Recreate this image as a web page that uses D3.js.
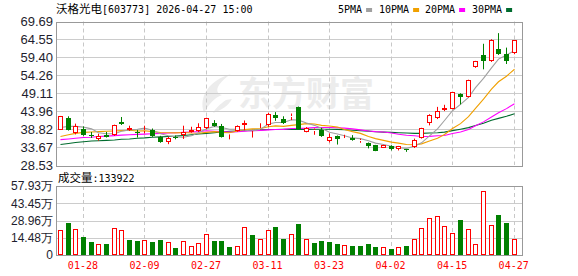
<!DOCTYPE html>
<html>
<head>
<meta charset="utf-8">
<style>
    body { margin: 0; background: #fff; }
    svg { display: block; }
    .ylab text { font-family: 'Liberation Sans', Arial, sans-serif; font-size: 13px; fill: #1e1e2e; }
    .vlab text { font-family: 'Liberation Sans', Arial, sans-serif; font-size: 12px; fill: #1e1e2e; }
    .xlab text { font-family: 'DejaVu Sans Mono', monospace; font-size: 10px; fill: #f00; }
    .mono { font-family: 'DejaVu Sans Mono', monospace; font-size: 10px; fill: #000; }
    .cjk { font-family: 'Noto Sans CJK SC', sans-serif; font-size: 11.5px; fill: #000; }
</style>
</head>
<body>
<svg width="578" height="276"></svg>

<script src="https://d3js.org/d3.v7.min.js"></script>
<script>
// trading days shown
const dates = ["01-23","01-26","01-27","01-28","01-29","01-30","02-02","02-03","02-04","02-05",
    "02-06","02-09","02-10","02-11","02-12","02-13","02-24","02-25","02-26","02-27",
    "03-02","03-03","03-04","03-05","03-06","03-09","03-10","03-11","03-12","03-13",
    "03-16","03-17","03-18","03-19","03-20","03-23","03-24","03-25","03-26","03-27",
    "03-30","03-31","04-01","04-02","04-03","04-07","04-08","04-09","04-10","04-13",
    "04-14","04-15","04-16","04-17","04-20","04-21","04-22","04-23","04-24","04-27"]

const opens = [38.7,42.0,37.6,38.9,37.1,35.9,37.0,37.1,40.9,38.7,
    38.0,38.2,38.5,36.6,35.0,36.6,37.1,38.1,38.3,39.0,
    40.6,39.7,35.8,38.3,40.0,38.4,39.0,39.9,42.8,41.6,
    42.3,45.2,38.05,38.3,38.5,35.4,36.8,36.2,36.4,35.4,
    34.7,34.2,33.5,34.0,33.0,33.0,33.8,36.3,40.6,41.9,
    44.4,44.6,49.0,48.1,56.6,59.97,58.3,61.7,60.5,60.7]
const highs = [42.6,42.5,40.4,39.6,38.0,37.5,38.0,40.1,42.3,39.8,
    38.6,39.8,39.0,36.9,36.6,37.0,39.8,39.5,40.5,42.1,
    41.4,40.3,37.3,39.9,41.3,38.6,40.5,43.5,43.7,42.5,
    43.3,45.3,39.4,39.0,39.2,37.6,37.0,37.2,37.1,36.1,
    35.0,34.3,34.3,34.2,34.0,33.1,36.1,39.2,43.1,45.2,
    45.8,49.5,49.1,53.0,58.4,63.3,64.6,66.35,62.2,64.4]
const lows = [38.6,38.4,37.3,36.9,36.3,35.5,36.4,36.9,40.0,38.3,
    36.4,37.6,36.6,34.9,34.5,35.9,36.0,37.8,38.0,38.8,
    39.5,36.4,35.8,38.1,38.5,36.4,38.7,39.5,41.2,40.3,
    41.4,38.7,37.9,37.2,36.6,35.0,34.4,36.0,35.5,34.9,
    33.3,32.5,33.4,32.7,32.7,32.3,33.4,36.1,39.9,41.7,
    44.0,44.5,45.9,47.9,56.4,55.97,58.1,60.1,57.5,60.3]
const closes = [42.5,38.5,39.7,37.1,36.8,36.9,36.6,39.96,40.3,39.1,
    37.7,38.7,36.8,35.0,36.4,36.2,38.1,38.6,39.5,42.05,
    39.7,36.6,35.9,39.7,40.6,38.5,39.2,43.3,41.9,40.6,
    42.5,38.8,39.0,38.5,36.8,36.6,36.1,36.3,35.7,35.6,
    33.9,32.6,34.2,33.0,33.9,32.8,35.7,39.0,43.0,44.0,
    45.0,49.4,48.1,52.8,58.3,58.5,64.5,60.5,58.5,64.3]

// volume, in 万
const vols = [21.0,27.1,21.6,15.4,11.2,9.2,9.2,22.4,21.0,12.6,
    12.0,12.6,11.2,12.6,10.9,6.2,11.8,7.6,10.4,17.6,
    12.0,12.0,7.0,7.6,23.8,16.8,13.4,21.0,23.8,13.4,
    17.6,26.0,13.4,10.4,12.0,11.2,9.2,8.1,7.6,7.6,
    9.2,7.0,6.4,5.0,6.4,7.6,13.2,22.4,30.8,32.7,
    24.3,18.2,29.4,21.6,9.2,53.7,25.2,33.6,27.1,13.39]

const ma5 = [39.3,39.6,39.6,39.4,38.9,37.8,37.5,37.5,38.2,38.6,
    38.8,39.1,38.5,37.5,36.9,36.6,36.5,36.9,37.8,38.9,
    39.6,39.3,38.8,38.8,38.5,38.3,38.8,40.3,40.7,40.7,
    41.5,41.4,40.6,39.9,39.1,37.9,37.4,36.9,36.3,36.1,
    35.5,34.8,34.4,33.9,33.5,33.3,33.9,34.9,36.9,38.9,
    41.3,44.1,45.9,47.9,50.7,53.4,56.4,58.9,60.1,61.3]
const ma10 = [36.7,37.2,37.6,37.9,38.0,38.1,38.2,38.3,38.4,38.5,
    38.3,38.35,38.1,37.85,37.8,37.75,37.85,37.7,37.65,37.9,
    38.1,37.9,37.8,38.3,38.7,38.9,39.0,39.5,39.75,39.6,
    39.9,40.1,40.4,40.3,39.9,39.7,39.4,38.7,38.1,37.6,
    36.7,36.1,35.6,35.1,34.8,34.4,34.35,34.6,35.4,36.2,
    37.3,39.0,40.4,42.4,44.8,47.4,50.3,52.4,54.0,56.0]
const ma20 = [35.8,36.0,36.2,36.4,36.5,36.7,36.8,36.95,37.1,37.2,
    37.3,37.4,37.5,37.6,37.7,37.8,37.9,38.0,38.1,38.35,
    38.2,38.1,37.95,38.05,38.25,38.35,38.45,38.6,38.7,38.75,
    39.0,39.0,39.1,39.3,39.3,39.3,39.2,39.1,38.9,38.6,
    38.3,38.1,38.0,37.7,37.35,37.05,36.9,36.7,36.75,36.9,
    37.0,37.55,38.0,38.7,39.8,40.9,42.3,43.5,44.7,46.1]
const ma30 = [34.4,34.7,35.0,35.2,35.4,35.5,35.6,35.7,35.9,36.0,
    36.2,36.3,36.5,36.6,36.7,36.8,37.0,37.2,37.4,37.6,
    37.8,38.0,38.2,38.3,38.4,38.5,38.6,38.7,38.7,38.75,
    38.75,38.8,38.75,38.8,38.8,38.8,38.75,38.65,38.5,38.35,
    38.25,38.05,37.95,37.9,37.8,37.7,37.6,37.6,37.7,37.8,
    37.95,38.4,38.8,39.25,39.85,40.5,41.35,41.9,42.5,43.25]

const priceTicks = [28.53, 33.67, 38.82, 43.96, 49.11, 54.26, 59.40, 64.55, 69.69]
const volTicks = [0, 14.48, 28.96, 43.45, 57.93]
const dateTicks = ["01-28","02-09","02-27","03-11","03-23","04-02","04-15","04-27"]

const maNames = ["5PMA", "10PMA", "20PMA", "30PMA"]
const maColors = ["#a0a0a0", "#f0a000", "#ff00ff", "#006b2e"]

const RED = "#ff0000", GREEN = "#008000"

let svg = d3.select("svg")

let left = 56, right = 522
let mainTop = 21.5, mainBottom = 165
let volTop = 186, volBottom = 255

let x = d3.scaleBand().domain(dates).range([left, 517.5]).padding(0)
let cx = d => Math.round(x(d) + x.bandwidth() / 2)

let y = d3.scaleLinear().domain([28.53, 69.69]).range([mainBottom, mainTop])
let yv = d3.scaleLinear().domain([0, 57.93]).range([volBottom, volTop])

let px = v => Math.round(v) + 0.5

// watermark
let wm = svg.append("g").attr("fill", "#ececec")
wm.append("path")
    .attr("d", "M231,74 C210,80 198,96 204,113 C209,104 214,98 222,95 C214,93 216,84 231,74 Z M226,100 C220,104 215,109 213,113 C222,110 228,106 232,99 Z")
wm.append("text")
    .attr("x", 238).attr("y", 106)
    .style("font-family", "'Noto Sans CJK SC', sans-serif")
    .style("font-size", "34px").style("font-weight", "bold")
    .text("东方财富")

// grids
function grid(scale, ticks, top, bottom) {
    svg.append("g").selectAll("line")
        .data(ticks.filter(t => px(scale(t)) > top + 1 && px(scale(t)) < bottom - 1))
        .join("line")
        .attr("x1", left).attr("x2", right)
        .attr("y1", d => px(scale(d))).attr("y2", d => px(scale(d)))
        .attr("stroke", "#cccccc")

    svg.append("g").selectAll("line")
        .data(dateTicks)
        .join("line")
        .attr("x1", d => cx(d) + 0.5).attr("x2", d => cx(d) + 0.5)
        .attr("y1", top).attr("y2", bottom)
        .attr("stroke", "#c8c8c8")
        .attr("stroke-dasharray", "4,3")

    svg.append("rect")
        .attr("x", left + 0.5).attr("y", Math.round(top) + 0.5)
        .attr("width", right - left).attr("height", Math.round(bottom - top))
        .attr("fill", "none").attr("stroke", "#999")
}
grid(y, priceTicks, mainTop, mainBottom)
grid(yv, volTicks, volTop, volBottom)

// moving averages
let series = [ma5, ma10, ma20, ma30]
let line = d3.line()
    .x((d, i) => cx(dates[i]) + 0.5)
    .y(d => y(d))

svg.append("g").selectAll("path")
    .data([3, 2, 1, 0])
    .join("path")
    .attr("d", k => line(series[k]))
    .attr("fill", "none")
    .attr("stroke", k => maColors[k])
    .attr("stroke-width", 1.1)

// candles
let candles = svg.append("g").selectAll("g")
    .data(dates.map((d, i) => ({ d, o: opens[i], h: highs[i], l: lows[i], c: closes[i] })))
    .join("g")

candles.each(function (p) {
    let g = d3.select(this)
    let up = p.c >= p.o
    let col = up ? RED : GREEN
    let xc = cx(p.d) + 0.5
    let yt = Math.round(y(Math.max(p.o, p.c)))
    let yb = Math.round(y(Math.min(p.o, p.c)))
    if (yb - yt < 1) yb = yt + 1
    g.append("line").attr("x1", xc).attr("x2", xc)
        .attr("y1", y(p.h)).attr("y2", yt).attr("stroke", col)
    g.append("line").attr("x1", xc).attr("x2", xc)
        .attr("y1", yb).attr("y2", y(p.l)).attr("stroke", col)
    if (up) {
        g.append("rect")
            .attr("x", xc - 2).attr("y", yt + 0.5)
            .attr("width", 4).attr("height", Math.max(yb - yt - 1, 0))
            .attr("fill", "#fff").attr("stroke", col)
    } else {
        g.append("rect")
            .attr("x", xc - 2.5).attr("y", yt)
            .attr("width", 5).attr("height", yb - yt)
            .attr("fill", col)
    }
})

// volume bars, coloured by close against previous close
svg.append("g").selectAll("rect")
    .data(vols)
    .join("rect")
    .each(function (v, i) {
        let up = i == 0 ? closes[i] >= opens[i] : closes[i] >= closes[i - 1]
        let xc = cx(dates[i]) + 0.5
        let top = Math.round(yv(v))
        let r = d3.select(this)
        if (up) {
            r.attr("x", xc - 2).attr("y", top + 0.5)
                .attr("width", 4).attr("height", volBottom - top - 1)
                .attr("fill", "#fff").attr("stroke", RED)
        } else {
            r.attr("x", xc - 2.5).attr("y", top)
                .attr("width", 5).attr("height", volBottom - top)
                .attr("fill", GREEN)
        }
    })

// axes
svg.append("g")
    .attr("class", "ylab")
    .attr("transform", `translate(${left - 2},0)`)
    .call(d3.axisLeft(y).tickValues(priceTicks).tickSize(0).tickPadding(1).tickFormat(d3.format(".2f")))
    .call(g => g.select(".domain").remove())

svg.append("g")
    .attr("class", "vlab")
    .attr("transform", `translate(${left - 2},0)`)
    .call(d3.axisLeft(yv).tickValues(volTicks).tickSize(0).tickPadding(1)
        .tickFormat(d => d == 0 ? "0" : d3.format(".2f")(d) + "万"))
    .call(g => g.select(".domain").remove())

svg.append("g")
    .attr("class", "xlab")
    .attr("transform", `translate(0,${volBottom})`)
    .call(d3.axisBottom(x).tickValues(dateTicks).tickSize(0).tickPadding(7))
    .call(g => g.select(".domain").remove())

// header
let title = svg.append("text").attr("x", 56).attr("y", 13)
title.append("tspan").attr("class", "cjk").text("沃格光电")
title.append("tspan").attr("class", "mono").text("[603773] 2026-04-27 15:00")

let legX = [338, 379, 425, 472]
maNames.forEach((n, i) => {
    svg.append("text").attr("class", "mono").attr("x", legX[i]).attr("y", 13).text(n)
    svg.append("rect")
        .attr("x", legX[i] + n.length * 6.02 + 4).attr("y", 8)
        .attr("width", 6).attr("height", 4)
        .attr("fill", maColors[i])
})

let vt = svg.append("text").attr("x", 58).attr("y", 182)
vt.append("tspan").attr("class", "cjk").text("成交量")
vt.append("tspan").attr("class", "mono").text(":133922")
</script>
</body>
</html>
